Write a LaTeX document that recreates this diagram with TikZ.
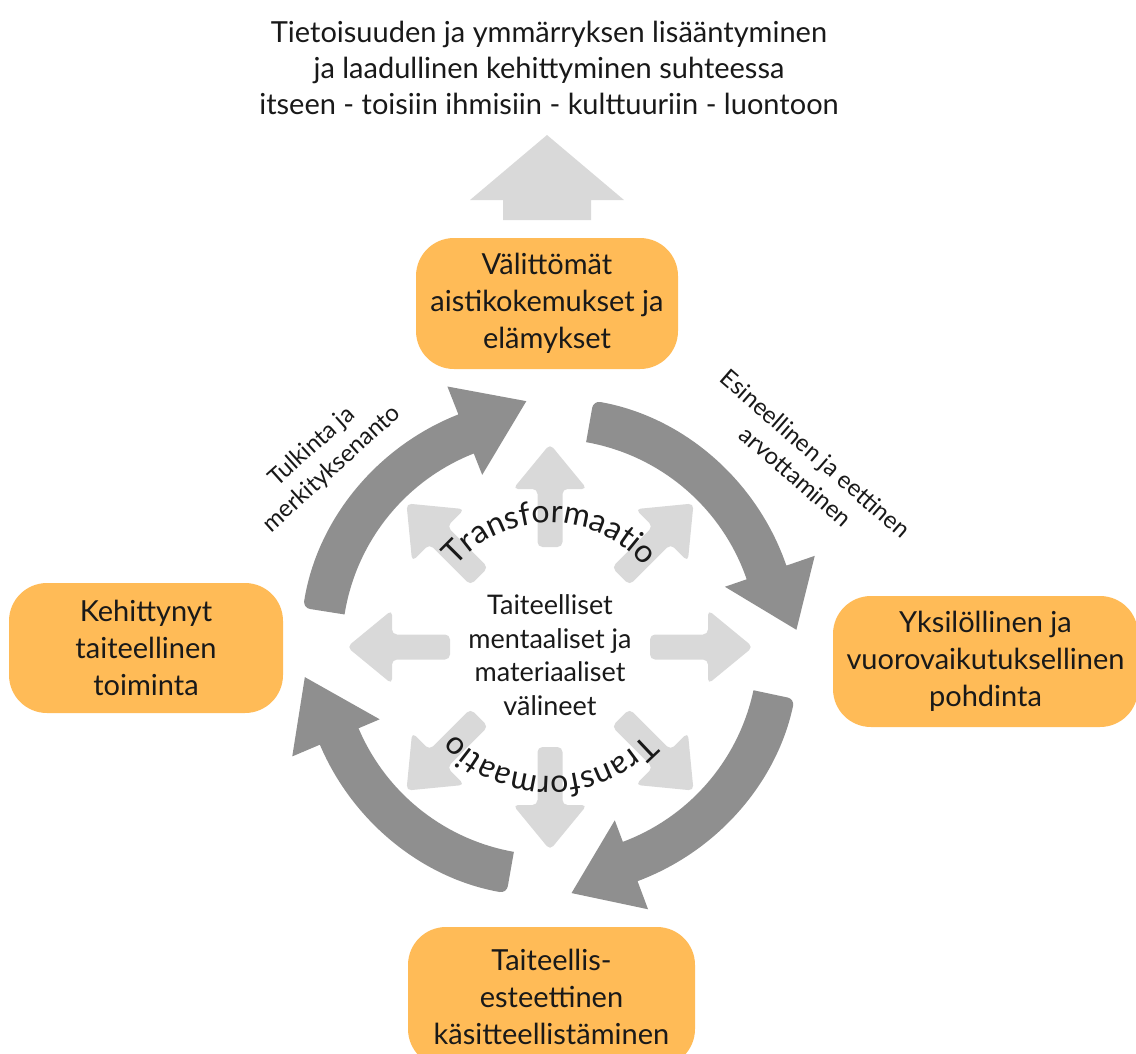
\documentclass[tikz,border=0pt]{standalone}
\usepackage{fontspec}
\setmainfont{Lato}
\usetikzlibrary{decorations.text}
\definecolor{boxorange}{RGB}{255,187,87}
\definecolor{ringgray}{RGB}{143,143,143}
\definecolor{raygray}{RGB}{217,217,217}
\definecolor{ink}{RGB}{25,25,25}

% one curved arrow of the outer cycle: tail angle, head-base angle, tip angle
\newcommand\ringarrow[3]{%
  \fill[ringfill] (#1:229) [rounded corners=7] -- (#1:250) [sharp corners]
    arc[start angle=#1, end angle=#2, radius=250]
    -- (#2:280) -- (#3:247) -- (#2:185) -- (#2:208)
    arc[start angle=#2, end angle=#1, radius=208] [rounded corners=7] -- cycle;}

\begin{document}
\begin{tikzpicture}[x=1pt,y=1pt,
  stagebox/.style={fill=boxorange, rounded corners=38, inner sep=0pt, align=center,
    text=ink, font=\fontsize{29}{37}\selectfont},
  ray/.style={fill=raygray, rounded corners=5},
  ringfill/.style={fill=ringgray},
  sidetext/.style={align=center, text=ink, font=\fontsize{24}{30}\selectfont},
]
\useasboundingbox (0,0) rectangle (1136,-1053);
\clip (0,0) rectangle (1136,-1053);

% heading and the broad arrow pointing up to it
\node[align=center, text=ink, font=\fontsize{29}{36}\selectfont] (goal) at (549,-68)
  {Tietoisuuden ja ymmärryksen lisääntyminen\\
   ja laadullinen kehittyminen suhteessa\\
   itseen - toisiin ihmisiin - kulttuuriin - luontoon};
\fill[raygray] (547,-135) -- (624,-200) -- (591,-200) -- (591,-220)
  -- (503,-220) -- (503,-200) -- (470,-200) -- cycle;

\begin{scope}[shift={(550,-647)}]
  \coordinate (hub) at (0,0);
  % eight light arrows radiating from the centre
  \foreach \a in {0,45,...,315}
    \fill[ray, rotate=\a] (100,-12.5) -- (158,-12.5) -- (158,-37) -- (203,0)
      -- (158,37) -- (158,12.5) -- (100,12.5) -- cycle;
  % the clockwise cycle of four curved arrows
  \ringarrow{80}{19}{4}
  \ringarrow{-12}{-69.5}{-85}
  \ringarrow{-100}{-157}{-173}
  \ringarrow{171}{111.5}{95.5}
  % the two curved captions
  \path[decorate, decoration={text along path, text align=center,
      text={|\fontsize{32}{32}\selectfont\color{ink}|Transformaatio}}]
    (160:124) arc[start angle=160, end angle=20, radius=124];
  \path[decorate, decoration={text along path, text align=center,
      text={|\fontsize{32}{32}\selectfont\color{ink}|Transformaatio}}]
    (-20:129) arc[start angle=-20, end angle=-160, radius=129];
\end{scope}

\node[align=center, text=ink, font=\fontsize{27}{33.5}\selectfont] (media) at (550,-655)
  {Taiteelliset\\mentaaliset ja\\materiaaliset\\välineet};

% the four stages
\node[stagebox, minimum width=262, minimum height=131] (sense) at (547,-303.5)
  {Välittömät\\aistikokemukset ja\\elämykset};
\node[stagebox, minimum width=305, minimum height=131] (reflect) at (985.5,-661.5)
  {Yksilöllinen ja\\vuorovaikutuksellinen\\pohdinta};
\node[stagebox, minimum width=287, minimum height=140] (concept) at (551.5,-997)
  {Taiteellis-\\esteettinen\\käsitteellistäminen};
\node[stagebox, minimum width=274, minimum height=130] (practice) at (146,-648)
  {Kehittynyt\\taiteellinen\\toiminta};

% captions beside the upper arrows
\node[sidetext, rotate=42] (interp) at (322,-458) {Tulkinta ja\\merkityksenanto};
\node[sidetext, rotate=-41] (value) at (806,-465) {Esineellinen ja eettinen\\arvottaminen};
\end{tikzpicture}
\end{document}
